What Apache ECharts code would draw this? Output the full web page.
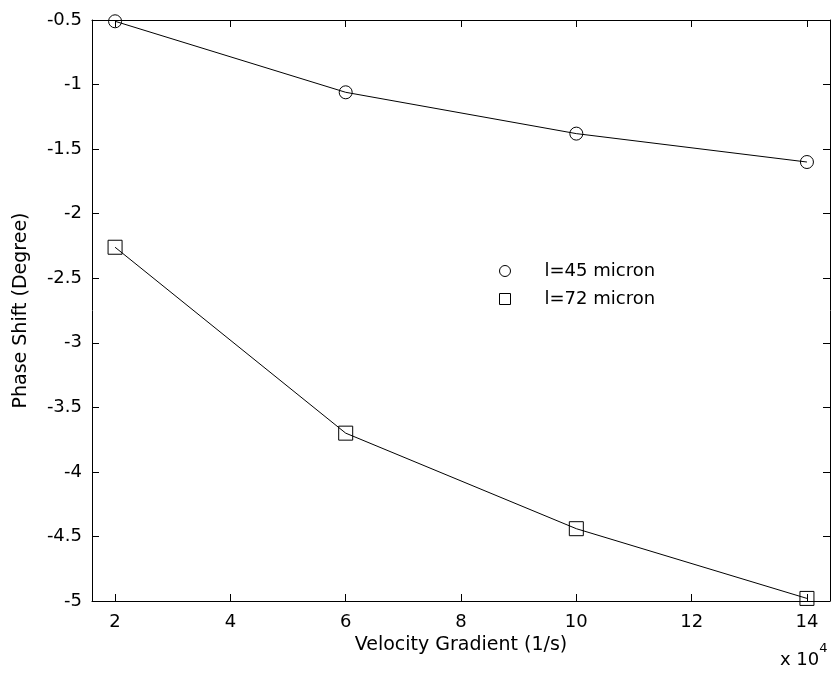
<!DOCTYPE html>
<html>
<head>
<meta charset="utf-8">
<script src="https://cdn.jsdelivr.net/npm/echarts@6/dist/echarts.min.js"></script>
<style>
  html, body { margin: 0; padding: 0; background: #fff; }
  #chart { width: 832px; height: 673px; }
</style>
</head>
<body>
<div id="chart"></div>
<script>
// velocity gradient, in units of 1e4 1/s
var gradient = [2, 6, 10, 14]
var shift45 = [-0.51, -1.06, -1.38, -1.60]
var shift72 = [-2.26, -3.70, -4.44, -4.98]
var xTicks = [2, 4, 6, 8, 10, 12, 14]
var seriesNames = ['l=45 micron', 'l=72 micron']

var font = 'DejaVu Sans, sans-serif'
var fs = 18
var chart = echarts.init(document.getElementById('chart'))

function pairs(ys) {
  return gradient.map(function (x, i) { return [x, ys[i]] })
}

var hollow = { color: 'rgba(0,0,0,0)', borderColor: '#000', borderWidth: 1 }

var option = {
  animation: false,
  backgroundColor: '#fff',
  grid: { left: 92, right: 2, top: 20, bottom: 72 },
  legend: {
    orient: 'vertical',
    left: 494,
    top: 256,
    itemWidth: 11,
    itemHeight: 11,
    itemGap: 8,
    itemStyle: { borderWidth: 1 },
    textStyle: { fontFamily: font, fontSize: fs, lineHeight: 20, color: '#000', padding: [0, 0, 0, 29] },
    data: [
      { name: seriesNames[0], icon: 'circle' },
      { name: seriesNames[1], icon: 'rect' }
    ]
  },
  xAxis: [{
    type: 'value',
    min: 1.6,
    max: 14.4,
    name: 'Velocity Gradient (1/s)',
    nameLocation: 'middle',
    nameGap: 33,
    nameTextStyle: { fontFamily: font, fontSize: 19, color: '#000' },
    axisLine: { lineStyle: { color: '#000', width: 1 } },
    axisTick: { inside: true, length: 7, customValues: xTicks, lineStyle: { color: '#000' } },
    axisLabel: { customValues: xTicks, fontFamily: font, fontSize: fs, color: '#000', margin: 12 },
    splitLine: { show: false }
  }, {
    type: 'value',
    position: 'top',
    min: 1.6,
    max: 14.4,
    axisLine: { lineStyle: { color: '#000', width: 1 } },
    axisTick: { inside: true, length: 7, customValues: xTicks, lineStyle: { color: '#000' } },
    axisLabel: { show: false },
    splitLine: { show: false }
  }],
  yAxis: [{
    type: 'value',
    min: -5,
    max: -0.5,
    interval: 0.5,
    name: 'Phase Shift (Degree)',
    nameLocation: 'middle',
    nameGap: 61,
    nameTextStyle: { fontFamily: font, fontSize: 19, color: '#000' },
    axisLine: { show: true, lineStyle: { color: '#000', width: 1 } },
    axisTick: { show: true, inside: true, length: 7, lineStyle: { color: '#000' } },
    axisLabel: { fontFamily: font, fontSize: fs, color: '#000', margin: 10 },
    splitLine: { show: false }
  }, {
    type: 'value',
    position: 'right',
    min: -5,
    max: -0.5,
    interval: 0.5,
    axisLine: { show: true, lineStyle: { color: '#000', width: 1 } },
    axisTick: { show: true, inside: true, length: 7, lineStyle: { color: '#000' } },
    axisLabel: { show: false },
    splitLine: { show: false }
  }],
  graphic: [{
    type: 'text',
    left: 780,
    top: 642,
    style: {
      text: '{b|x 10}{s|4}',
      rich: {
        b: { fontFamily: font, fontSize: fs, fill: '#000', padding: [9, 0, 0, 0] },
        s: { fontFamily: font, fontSize: 13, fill: '#000', verticalAlign: 'top' }
      }
    }
  }],
  series: [{
    name: seriesNames[0],
    type: 'line',
    data: pairs(shift45),
    symbol: 'circle',
    symbolSize: 13,
    itemStyle: hollow,
    lineStyle: { color: '#000', width: 1 }
  }, {
    name: seriesNames[1],
    type: 'line',
    data: pairs(shift72),
    symbol: 'rect',
    symbolSize: 14,
    itemStyle: hollow,
    lineStyle: { color: '#000', width: 1 }
  }]
}

chart.setOption(option)
</script>
</body>
</html>
